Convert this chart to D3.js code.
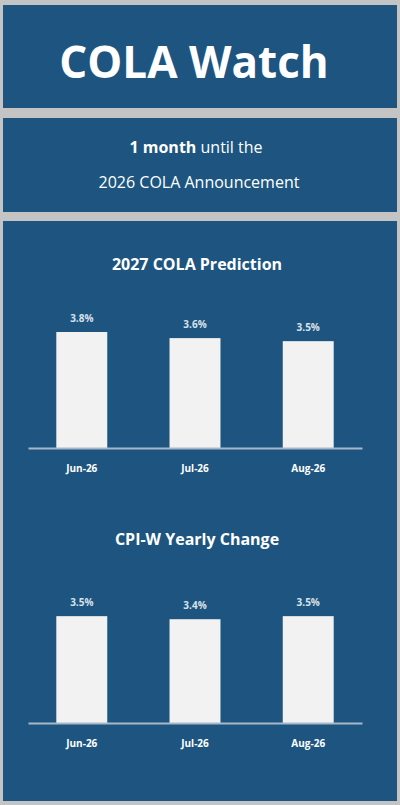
<!DOCTYPE html>
<html><head><meta charset="utf-8">
<script src="https://cdn.jsdelivr.net/npm/d3@7"></script>
<style>body{margin:0;background:#c4c4c4;font-family:"Open Sans",sans-serif}</style>
</head><body><svg id="c" width="400" height="805"></svg>
<script>
const months = ["Jun-26","Jul-26","Aug-26"];
const colaPrediction = [3.8,3.6,3.5];
const cpiwChange = [3.5,3.4,3.5];
const blue = "#1d5580";
const svg = d3.select("#c");
svg.append("rect").attr("width",400).attr("height",805).attr("fill","#c4c4c4");
svg.append("rect").attr("x",3).attr("y",5).attr("width",394).attr("height",103).attr("fill",blue);
svg.append("rect").attr("x",3).attr("y",118).attr("width",394).attr("height",94).attr("fill",blue);
svg.append("rect").attr("x",3).attr("y",221).attr("width",394).attr("height",580).attr("fill",blue);
svg.append("text").attr("x",194).attr("y",78).attr("text-anchor","middle").attr("fill","#fff")
  .attr("font-size",44).attr("font-weight",700).text("COLA Watch");
const t2 = svg.append("text").attr("x",196).attr("y",153).attr("text-anchor","middle").attr("fill","#fff").attr("font-size",16);
t2.append("tspan").attr("font-weight",700).text("1 month");
t2.append("tspan").text(" until the");
svg.append("text").attr("x",199).attr("y",188).attr("text-anchor","middle").attr("fill","#fff").attr("font-size",16).text("2026 COLA Announcement");

const x = d3.scaleBand().domain(months).range([28,362]).paddingInner(0.55).paddingOuter(0.25);
const y = d3.scaleLinear().domain([0,3.8]).range([0,116]);
function chart(title, vals, titleY, base){
  svg.append("text").attr("x",197).attr("y",titleY).attr("text-anchor","middle").attr("fill","#fff")
    .attr("font-size",16).attr("font-weight",700).text(title);
  svg.selectAll(null).data(vals).enter().append("rect")
    .attr("x",(d,i)=>x(months[i])).attr("width",x.bandwidth())
    .attr("y",d=>base-y(d)).attr("height",d=>y(d)).attr("fill","#f2f2f2");
  svg.selectAll(null).data(vals).enter().append("text")
    .attr("x",(d,i)=>x(months[i])+x.bandwidth()/2).attr("y",d=>base-y(d)-10)
    .attr("text-anchor","middle").attr("fill","#d9e1ea").attr("font-size",10).attr("font-weight",700)
    .text(d=>d.toFixed(1)+"%");
  const ax = d3.axisBottom(x).tickSize(0).tickPadding(17);
  const g = svg.append("g").attr("transform",`translate(0,${base})`).call(ax);
  g.select(".domain").attr("stroke","#a9b8c8").attr("stroke-width",2);
  g.selectAll("text").attr("fill","#fff").attr("font-size",10).attr("font-weight",700).attr("font-family","Open Sans");
}
chart("2027 COLA Prediction", colaPrediction, 270, 448);
chart("CPI-W Yearly Change", cpiwChange, 545, 723);
</script></body></html>
